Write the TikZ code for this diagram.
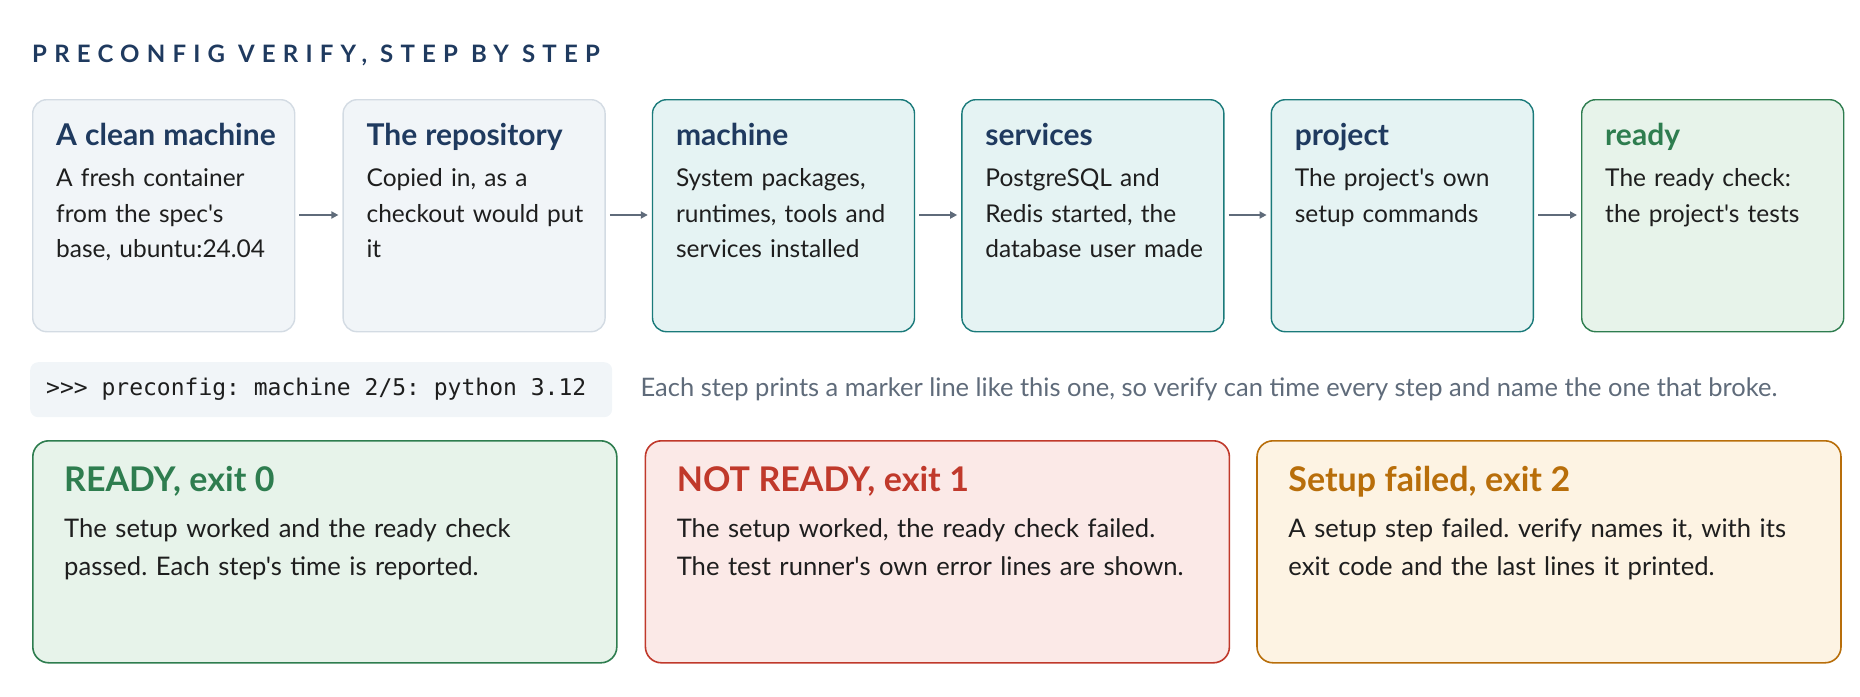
\documentclass[tikz,border=0pt]{standalone}
\usepackage{fontspec}
\setmainfont{Lato}[Ligatures=TeXOff]
\setmonofont{DejaVu Sans Mono}
\usetikzlibrary{positioning, arrows.meta}
\definecolor{navy}{HTML}{1F3A5F}
\definecolor{plainfill}{HTML}{F1F5F8}
\definecolor{plainline}{HTML}{D3DBE3}
\definecolor{tealfill}{HTML}{E5F3F3}
\definecolor{tealline}{HTML}{1A7A7A}
\definecolor{okfill}{HTML}{E7F3EA}
\definecolor{okline}{HTML}{2E7D4F}
\definecolor{badfill}{HTML}{FBE9E7}
\definecolor{badline}{HTML}{C0392B}
\definecolor{warnfill}{HTML}{FDF3E3}
\definecolor{warnline}{HTML}{B86E0A}
\definecolor{bodytext}{HTML}{1E1E1E}
\definecolor{greytext}{HTML}{5F6B7A}
\frenchspacing
\hyphenpenalty=10000
\exhyphenpenalty=10000
\tikzset{
    step/.style={draw=#1line, fill=#1fill, line width=1.4pt, rounded corners=14pt,
      minimum width=262pt, minimum height=232pt, anchor=north west, inner sep=0pt},
    result/.style={draw=#1line, fill=#1fill, line width=1.6pt, rounded corners=16pt,
      minimum width=584pt, minimum height=222pt, anchor=north west, inner sep=0pt},
    steptext/.style={text width=222pt, align=left, inner sep=0pt, text=bodytext,
      font=\fontsize{24.5}{35.5}\selectfont},
    resulttext/.style={text width=515pt, align=left, inner sep=0pt, text=bodytext,
      font=\fontsize{25.6}{38}\selectfont},
    flow/.style={-{Triangle[length=7pt, width=7pt]}, draw=greytext, line width=2pt},
}
\newcommand{\steptitle}[2]{{\color{#1}\fontsize{30}{35}\selectfont\bfseries #2\par}\vspace{6pt}}
\newcommand{\resulttitle}[2]{{\color{#1}\fontsize{34}{40}\selectfont\bfseries #2\par}\vspace{8pt}}
\begin{document}
\begin{tikzpicture}[x=1pt, y=-1pt]
    \useasboundingbox (0,0) rectangle (1860,696);

    \node[anchor=base west, inner sep=0pt, text=navy,
      font=\fontsize{24}{28}\selectfont\bfseries\addfontfeatures{LetterSpace=30}] (title) at (32,62)
      {PRECONFIG VERIFY, STEP BY STEP};

    % the six steps
    \node[step=plain] (s1) at (32,99) {};
    \node[step=plain, right=47pt of s1] (s2) {};
    \node[step=teal, right=46pt of s2] (s3) {};
    \node[step=teal, right=46pt of s3] (s4) {};
    \node[step=teal, right=46pt of s4] (s5) {};
    \node[step=ok, right=47pt of s5] (s6) {};

    \node[steptext, below right=24pt and 24pt of s1.north west] (t1)
      {\steptitle{navy}{A clean machine}A fresh container from the spec's base, ubuntu:24.04};
    \node[steptext, below right=24pt and 24pt of s2.north west] (t2)
      {\steptitle{navy}{The repository}Copied in, as a checkout would put it};
    \node[steptext, below right=24pt and 24pt of s3.north west] (t3)
      {\steptitle{navy}{machine}System packages, runtimes, tools and services installed};
    \node[steptext, below right=24pt and 24pt of s4.north west] (t4)
      {\steptitle{navy}{services}PostgreSQL and Redis started, the database user made};
    \node[steptext, below right=24pt and 24pt of s5.north west] (t5)
      {\steptitle{navy}{project}The project's own setup commands};
    \node[steptext, below right=24pt and 24pt of s6.north west] (t6)
      {\steptitle{okline}{ready}The ready check: the project's tests};

    \foreach \a/\b in {s1/s2, s2/s3, s3/s4, s4/s5, s5/s6}
      \draw[flow] ([xshift=4pt, yshift=-116pt]\a.north east) -- ([xshift=-4pt, yshift=-116pt]\b.north west);

    % marker line
    \node[fill=plainfill, rounded corners=8pt, anchor=north west, minimum width=582pt,
      minimum height=55pt, inner sep=0pt] (code) at (30,362) {};
    \node[anchor=west, inner sep=0pt, font=\fontsize{23}{26}\ttfamily, text=bodytext,
      right=16pt of code.west] (codetext) {>{}>{}> preconfig: machine 2/5: python 3.12};
    \node[anchor=west, inner sep=0pt, font=\fontsize{25.5}{30}\selectfont, text=greytext,
      right=28pt of code.east] (note)
      {Each step prints a marker line like this one, so verify can time every step and name the one that broke.};

    % the three outcomes
    \node[result=ok] (r0) at (32,440) {};
    \node[result=bad, right=27pt of r0] (r1) {};
    \node[result=warn, right=26pt of r1] (r2) {};

    \node[resulttext, below right=26pt and 32pt of r0.north west] (u0)
      {\resulttitle{okline}{READY, exit 0}The setup worked and the ready check passed. Each step's time is reported.};
    \node[resulttext, below right=26pt and 32pt of r1.north west] (u1)
      {\resulttitle{badline}{NOT READY, exit 1}The setup worked, the ready check failed. The test runner's own error lines are shown.};
    \node[resulttext, below right=26pt and 32pt of r2.north west] (u2)
      {\resulttitle{warnline}{Setup failed, exit 2}A setup step failed. verify names it, with its exit code and the last lines it printed.};
\end{tikzpicture}
\end{document}
